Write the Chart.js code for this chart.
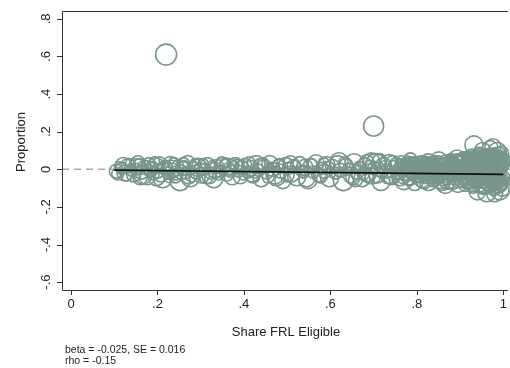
<!DOCTYPE html>
<html>
<head>
<meta charset="utf-8">
<script src="https://cdn.jsdelivr.net/npm/chart.js@4"></script>
<style>
  body { margin: 0; background: #fff; overflow: hidden; }
  #wrap { width: 510px; height: 368px; }
</style>
</head>
<body>
<div id="wrap"><canvas id="chart" width="510" height="368"></canvas></div>
<script>
// tick positions
const xTicks = [0, 0.2, 0.4, 0.6, 0.8, 1];
const yTicks = [-0.6, -0.4, -0.2, 0, 0.2, 0.4, 0.6, 0.8];

// share FRL eligible (x) per school
const shareFrl = [
  0.105,0.118,0.125,0.132,0.14,0.145,0.152,0.158,0.163,0.17,0.176,0.18,0.186,0.19,0.196,0.2,0.205,0.212,0.218,0.224,0.23,0.235,0.241,0.247,0.252,0.258,0.265,0.27,0.276,0.283,0.29,0.296,0.302,0.31,0.316,0.323,0.33,0.337,0.345,0.352,0.36,0.366,0.373,0.38,0.388,0.395,
  0.402,0.409,0.415,0.421,0.428,0.434,0.44,0.447,0.453,0.46,0.466,0.472,0.479,0.485,0.49,0.497,0.503,0.51,0.516,0.522,0.529,0.535,0.541,0.548,0.554,0.56,0.567,0.573,0.58,0.586,0.592,0.598,0.605,0.611,0.617,0.623,0.63,0.636,0.642,0.648,0.655,0.661,0.667,0.673,0.68,0.686,0.692,0.698,0.705,0.711,0.717,0.723,0.73,0.736,0.742,0.748,
  0.752,0.755,0.758,0.761,0.764,0.767,0.77,0.772,0.775,0.778,0.781,0.784,0.787,0.79,0.792,0.795,0.798,0.801,0.804,0.807,0.81,0.812,0.815,0.818,0.821,0.824,0.827,0.83,0.832,0.835,0.838,0.841,0.844,0.847,0.85,0.852,0.855,0.858,0.861,0.864,0.867,0.87,0.872,0.875,0.878,0.881,0.884,0.887,0.89,0.892,0.895,0.898,0.76,0.785,0.808,0.833,0.856,0.879,0.866,0.893,
  0.901,0.904,0.905,0.908,0.909,0.912,0.913,0.915,0.918,0.919,0.921,0.924,0.925,0.927,0.93,0.931,0.934,0.935,0.937,0.94,0.941,0.943,0.946,0.947,0.949,0.952,0.953,0.955,0.958,0.959,0.961,0.963,0.966,0.967,0.969,0.972,0.973,0.975,0.977,0.98,0.981,0.983,0.986,0.987,0.989,0.991,0.994,0.995,0.997,0.999,
  0.904,0.914,0.924,0.934,0.944,0.954,0.964,0.974,0.984,0.994,
  0.908,0.918,0.928,0.938,0.948,0.958,0.968,0.978,0.988,0.998,
  0.932,0.976,0.952,0.986,0.94,0.962,0.97,0.992,0.98,0.996,
  0.22,0.70,
  0.763,0.766,0.769,0.774,0.777,0.78,0.783,0.786,0.789,0.791,0.794,0.797,0.8,0.803,0.806,0.809,0.811,0.814,0.817,0.82,
  0.823,0.826,0.829,0.831,0.834,0.837,0.84,0.843,0.846,0.849,0.851,0.854,0.857,0.86,0.863,0.865,0.868,0.871,0.874,0.877,
  0.88,0.883,0.886,0.888,0.891,0.894,0.897,0.899,0.802,0.826,0.848,0.862,0.876,0.889,0.814,0.838,0.869,0.884,0.896,0.822,
  0.902,0.906,0.91,0.914,0.917,0.92,0.923,0.926,0.929,0.933,0.936,0.939,0.942,0.945,0.948,0.95,0.954,0.957,0.96,0.964,
  0.965,0.968,0.971,0.974,0.976,0.979,0.982,0.985,0.988,0.99,0.993,0.996,0.998,0.903,0.911,0.916,0.922,0.928,0.936,0.943,
  0.951,0.956,0.962,0.97,0.978,0.984,0.99,0.996,0.907,0.919,0.929,0.938,0.947,0.957,0.966,0.975,0.983,0.992,0.999,0.912,
  0.924,0.935,0.944,0.953,0.963,0.971,0.98,0.989,0.997,0.945,0.95,0.955,0.96,0.965,0.97,0.975,0.98,0.985,0.99,0.995,
  0.9,0.91,0.92,0.93,0.94,0.958,0.968,0.978,0.988,0.998,
  0.112,0.128,0.137,0.149,0.16,0.173,0.183,0.193,0.208,0.215,0.227,0.238,0.255,0.262,0.279,0.287,0.299,0.313,0.327,0.341,
  0.356,0.37,0.384,0.398,0.412,0.425,0.438,0.456,0.469,0.482,0.5,0.519,0.538,0.557,0.577,0.595,0.614,0.633,0.652,0.67,
  0.676,0.684,0.69,0.701,0.708,0.714,0.72,0.727,0.733,0.745,
  0.781,0.788,0.796,0.804,0.811,0.819,0.826,0.834,0.841,0.849,0.856,0.864,0.871,0.879,0.886,0.894,0.901,0.909,0.916,0.924,
  0.931,0.939,0.946,0.954,0.961,0.969,0.976,0.984,0.991,0.998,0.784,0.792,0.799,0.807,0.815,0.822,0.83,0.837,0.845,0.852,
  0.86,0.867,0.875,0.882,0.89,0.897,0.905,0.912,0.92,0.927,0.935,0.942,0.95,0.957,0.965,0.972,0.98,0.987,0.995,0.9,
  0.91,0.921,0.933,0.944,0.956,0.967,0.979,0.99,0.915,0.938,0.96,0.982,0.926,0.949,0.971,0.993,0.818,0.843,0.868,0.893,
  0.108,0.121,0.142,0.155,0.167,0.188,0.198,0.221,0.233,0.244,0.26,0.273,0.293,0.306,0.32,0.334,0.349,0.363,0.377,0.392,
  0.418,0.444,0.475,0.508,0.545,0.585,0.62,0.658,0.695,0.74
];

// proportion (y) per school
const proportion = [
  -0.01,0.005,-0.02,0.02,-0.005,-0.03,0.015,0.025,-0.015,0.01,-0.04,0.03,0.0,-0.025,0.02,-0.01,0.035,-0.05,0.01,-0.02,0.025,-0.005,-0.035,0.015,-0.06,0.005,-0.02,0.03,-0.045,0.01,-0.015,0.02,-0.03,0.0,0.025,-0.02,-0.05,0.015,-0.01,0.02,-0.025,0.005,-0.04,0.025,-0.01,0.01,
  0.02,-0.015,0.005,-0.035,0.025,-0.005,-0.05,0.015,-0.02,0.03,0.0,-0.03,0.02,-0.01,-0.06,0.025,0.005,-0.025,0.015,-0.04,0.03,-0.01,0.01,-0.055,0.02,-0.015,0.035,-0.03,0.005,-0.01,0.025,-0.045,0.015,-0.02,0.03,-0.005,-0.06,0.02,0.0,-0.03,0.035,-0.015,0.01,-0.05,0.025,-0.02,0.015,-0.035,0.03,0.0,-0.065,0.02,-0.01,0.03,-0.04,0.01,
  0.03,-0.02,0.01,-0.045,0.04,-0.005,-0.06,0.02,-0.03,0.045,0.0,-0.05,0.025,-0.015,0.035,-0.07,0.01,-0.035,0.04,-0.01,0.02,-0.055,0.045,-0.025,0.005,0.03,-0.065,0.015,-0.04,0.04,-0.01,0.025,-0.05,0.0,0.045,-0.03,0.02,-0.07,0.035,-0.015,0.01,-0.045,0.04,-0.02,0.025,-0.06,0.05,-0.005,-0.035,0.03,-0.075,0.015,-0.01,0.05,-0.04,0.02,-0.06,0.045,-0.08,0.06,
  0.04,-0.06,0.01,-0.03,0.06,-0.08,0.02,-0.045,0.05,-0.01,-0.07,0.035,-0.025,0.065,-0.09,0.0,0.045,-0.055,0.025,-0.015,0.07,-0.085,0.03,-0.04,0.055,-0.065,0.01,0.06,-0.03,-0.095,0.04,-0.005,0.07,-0.075,0.02,-0.05,0.065,-0.02,0.045,-0.09,0.005,0.06,-0.06,0.03,-0.035,0.075,-0.08,0.015,0.05,-0.045,
  -0.02,0.01,-0.04,0.03,-0.01,0.02,-0.03,0.0,-0.05,0.04,
  0.05,-0.07,0.06,-0.06,0.075,-0.08,0.055,-0.065,0.07,-0.1,
  0.13,0.12,0.1,0.095,-0.12,-0.125,0.11,-0.115,-0.13,0.085,
  0.61,0.23,
  -0.01,0.025,-0.04,0.0,-0.025,0.035,-0.05,0.015,-0.02,0.005,0.03,-0.045,0.02,-0.005,-0.03,0.04,-0.015,0.01,-0.06,0.025,
  -0.035,0.045,0.0,-0.02,0.015,-0.055,0.035,-0.01,0.02,-0.04,0.05,-0.025,0.005,-0.05,0.03,-0.005,0.04,-0.065,0.015,-0.03,
  0.0,0.035,-0.045,0.02,-0.015,0.045,-0.055,0.01,-0.02,0.0,0.01,-0.01,0.03,-0.03,0.015,-0.005,0.005,-0.025,0.02,-0.035,
  0.0,0.05,-0.04,0.02,-0.065,0.04,-0.015,0.06,-0.05,0.01,-0.03,0.055,-0.07,0.025,-0.005,0.045,-0.08,0.015,-0.035,0.065,
  -0.055,0.005,0.04,-0.02,0.07,-0.065,0.03,-0.04,0.055,-0.01,0.035,-0.07,0.02,-0.02,0.03,-0.05,0.045,-0.035,0.0,-0.06,
  0.04,-0.025,0.01,-0.045,0.05,-0.03,0.02,-0.055,0.015,-0.005,0.025,-0.06,0.035,-0.01,0.06,-0.04,0.005,-0.07,0.045,-0.03,
  0.05,-0.02,0.08,-0.09,0.015,-0.05,0.065,-0.085,0.01,-0.06,-0.01,0.03,-0.045,0.0,-0.025,0.05,-0.07,0.025,-0.04,0.06,
  -0.03,0.015,0.06,-0.075,0.035,-0.015,0.075,-0.095,0.04,0.03,
  0.015,-0.03,0.03,0.0,-0.045,0.02,-0.01,0.04,-0.03,0.005,-0.045,0.03,-0.015,0.02,-0.035,0.03,0.0,-0.04,0.02,-0.025,
  0.03,-0.01,0.015,-0.03,0.035,-0.02,0.02,-0.04,0.01,0.025,-0.03,0.02,-0.015,0.03,-0.035,0.01,-0.025,0.035,-0.045,0.015,
  -0.025,0.04,-0.05,0.01,-0.03,0.045,-0.015,0.02,-0.04,0.03,
  0.012,-0.018,0.026,-0.032,0.004,0.02,-0.024,0.034,-0.01,0.016,-0.036,0.008,0.03,-0.02,0.002,-0.042,0.024,-0.014,0.04,-0.03,
  0.01,-0.05,0.036,-0.006,0.05,-0.04,0.018,-0.058,0.028,-0.022,-0.028,0.032,-0.008,0.018,-0.04,0.038,-0.002,-0.026,0.024,-0.046,
  0.036,-0.016,0.006,0.042,-0.034,0.014,-0.05,0.032,-0.012,0.052,-0.024,0.044,-0.062,0.006,-0.032,0.06,-0.044,0.034,-0.068,0.058,
  -0.008,0.012,-0.018,0.028,-0.048,0.022,0.004,-0.036,0.07,-0.074,0.074,-0.07,-0.056,0.064,-0.06,0.046,-0.05,0.05,-0.054,0.048,
  -0.025,0.02,-0.01,0.035,-0.03,0.01,-0.045,0.02,0.0,-0.02,0.03,-0.035,0.01,0.03,-0.04,-0.005,0.035,0.01,0.02,-0.04,
  -0.025,0.03,-0.04,0.035,-0.05,0.03,0.04,-0.055,0.045,-0.03
];

// marker weight (radius, px) per school
const weight = [
  7,6,8,7,6,7,8,6,7,7,8,6,7,6,8,7,6,9,7,6,8,7,7,6,10,7,6,8,9,6,7,7,8,6,7,6,9,7,6,8,7,6,8,7,6,7,
  7,6,8,7,9,6,8,7,6,8,7,9,6,7,8,7,6,8,7,9,7,6,8,9,7,6,8,7,6,7,8,9,7,6,8,7,10,7,6,8,9,7,6,8,7,9,6,8,10,7,9,8,7,9,8,7,
  6,7,5,8,6,7,9,6,7,5,8,6,7,6,5,8,7,6,5,7,6,8,5,7,6,7,9,6,7,5,8,6,7,6,5,7,6,8,5,7,6,7,5,8,6,9,5,7,6,5,9,6,8,7,6,5,8,7,9,8,
  6,7,5,8,6,7,5,8,6,7,6,5,8,6,7,5,6,8,7,5,6,7,8,5,6,7,5,8,6,7,6,5,7,8,6,5,7,6,8,7,5,6,7,8,6,5,7,6,8,7,
  7,8,6,7,8,6,7,8,6,7,
  8,7,9,8,7,9,8,7,9,8,
  9,8,8,9,8,9,8,9,8,7,
  10.5,10,
  5,6,7,5,6,5,7,6,5,6,7,5,6,5,7,6,5,6,8,5,
  6,7,5,6,5,7,6,5,6,7,8,5,6,7,6,5,7,8,5,6,
  5,6,7,5,6,7,8,5,6,5,6,5,7,6,5,6,5,7,6,5,
  5,6,7,5,6,7,5,6,7,5,6,7,5,6,5,7,8,6,5,7,
  6,5,7,6,8,7,5,6,7,5,6,7,5,6,5,7,6,5,6,7,
  5,6,5,7,6,5,6,7,5,6,7,6,5,6,7,5,6,8,7,5,
  6,5,7,8,5,6,7,8,6,5,5,6,7,5,6,7,8,5,6,7,
  6,5,7,8,6,5,7,8,6,7,
  5,6,5,6,7,5,6,5,7,6,5,6,7,5,6,5,6,7,5,6,
  5,6,7,5,6,5,7,6,5,6,7,5,6,5,7,6,5,6,7,5,
  6,7,5,6,8,7,6,5,7,8,
  4,5,3,4,5,4,3,5,4,4,5,3,4,5,4,3,5,4,4,5,
  3,4,5,4,3,5,4,4,5,3,4,5,4,3,5,4,4,5,3,4,
  5,4,3,5,4,4,5,3,4,5,4,3,5,4,4,5,3,4,5,4,
  3,5,4,4,5,3,4,5,4,3,5,4,4,5,3,4,5,4,3,5,
  6,8,5,7,9,6,8,5,9,7,6,8,9,5,7,8,6,9,5,7,
  8,6,9,7,8,6,9,7,8,9
];

// fitted line (beta = -0.025)
const fitX = [0.1, 1.0];
const fitY = [-0.0045, -0.027];

const xMin = -0.0208, xMax = 1.0155;
const yMin = -0.642, yMax = 0.842;

const ink = '#333333';
const markerColor = 'rgb(121,150,139)';

function fmtTick(v){
  let s = (Math.round(v * 10) / 10).toString();
  return s.replace('0.', '.');
}

let bubbles = [];
for(let i = 0; i < shareFrl.length; i++){
  bubbles.push({x: shareFrl[i], y: proportion[i], r: weight[i]});
}

// zero reference line under the markers, fit line on top, both through the scales
const refLines = {
  id: 'refLines',
  beforeDatasetsDraw(chart){
    const ctx = chart.ctx;
    const xs = chart.scales.x, ys = chart.scales.y;
    const y0 = ys.getPixelForValue(0);
    ctx.save();
    ctx.strokeStyle = '#a8a8a8';
    ctx.lineWidth = 1.5;
    ctx.setLineDash([7, 5]);
    ctx.beginPath();
    ctx.moveTo(xs.getPixelForValue(xMin), y0);
    ctx.lineTo(xs.getPixelForValue(xMax), y0);
    ctx.stroke();
    ctx.restore();
  },
  afterDatasetsDraw(chart){
    const ctx = chart.ctx;
    const xs = chart.scales.x, ys = chart.scales.y;
    ctx.save();
    ctx.strokeStyle = '#111';
    ctx.lineWidth = 1.6;
    ctx.beginPath();
    ctx.moveTo(xs.getPixelForValue(fitX[0]), ys.getPixelForValue(fitY[0]));
    ctx.lineTo(xs.getPixelForValue(fitX[1]), ys.getPixelForValue(fitY[1]));
    ctx.stroke();
    ctx.restore();
  }
};

// draws axes, frame, tick labels, titles and the note (Stata look)
const decorations = {
  id: 'decorations',
  afterDraw(chart){
    const ctx = chart.ctx;
    const area = chart.chartArea;
    const xs = chart.scales.x;
    const ys = chart.scales.y;
    ctx.save();

    // plot box: left, bottom, top (right side is cut off)
    ctx.strokeStyle = ink;
    ctx.lineWidth = 1;
    ctx.beginPath();
    ctx.moveTo(508, area.top + 0.5);
    ctx.lineTo(area.left + 0.5, area.top + 0.5);
    ctx.lineTo(area.left + 0.5, area.bottom + 0.5);
    ctx.lineTo(508, area.bottom + 0.5);
    // tick marks
    xs.ticks.forEach(t => {
      const px = Math.round(xs.getPixelForValue(t.value)) + 0.5;
      ctx.moveTo(px, area.bottom);
      ctx.lineTo(px, area.bottom + 5);
    });
    ys.ticks.forEach(t => {
      const py = Math.round(ys.getPixelForValue(t.value)) + 0.5;
      ctx.moveTo(area.left, py);
      ctx.lineTo(area.left - 5, py);
    });
    ctx.stroke();

    ctx.fillStyle = '#222';
    ctx.font = '13px "Liberation Sans", Arial, sans-serif';

    // x tick labels
    ctx.textAlign = 'center';
    ctx.textBaseline = 'middle';
    xs.ticks.forEach(t => {
      ctx.fillText(fmtTick(t.value), xs.getPixelForValue(t.value), 304);
    });

    // y tick labels, rotated
    ys.ticks.forEach(t => {
      ctx.save();
      ctx.translate(46, ys.getPixelForValue(t.value));
      ctx.rotate(-Math.PI / 2);
      ctx.fillText(fmtTick(t.value), 0, 0);
      ctx.restore();
    });

    // axis titles
    ctx.fillText('Share FRL Eligible', 286, 332);
    ctx.save();
    ctx.translate(21, 142);
    ctx.rotate(-Math.PI / 2);
    ctx.fillText('Proportion', 0, 0);
    ctx.restore();

    // note
    ctx.textAlign = 'left';
    ctx.font = '10.5px "Liberation Sans", Arial, sans-serif';
    ctx.fillText('beta = -0.025, SE = 0.016', 65, 350);
    ctx.fillText('rho = -0.15', 65, 361);

    ctx.restore();
  }
};

new Chart(document.getElementById('chart'), {
  type: 'bubble',
  data: {
    datasets: [
      {
        data: bubbles,
        borderColor: markerColor,
        backgroundColor: 'rgba(0,0,0,0)',
        borderWidth: 1.6
      }
    ]
  },
  options: {
    responsive: false,
    animation: false,
    layout: { autoPadding: false, padding: { left: 62, top: 11, right: 0, bottom: 78 } },
    plugins: { legend: { display: false }, tooltip: { enabled: false } },
    scales: {
      x: {
        type: 'linear',
        min: xMin,
        max: xMax,
        afterBuildTicks: s => { s.ticks = xTicks.map(v => ({value: v})); },
        ticks: { display: false },
        grid: { display: false, drawTicks: false },
        border: { display: false }
      },
      y: {
        type: 'linear',
        min: yMin,
        max: yMax,
        afterBuildTicks: s => { s.ticks = yTicks.map(v => ({value: v})); },
        ticks: { display: false },
        grid: { display: false, drawTicks: false },
        border: { display: false }
      }
    }
  },
  plugins: [refLines, decorations]
});
</script>
</body>
</html>
